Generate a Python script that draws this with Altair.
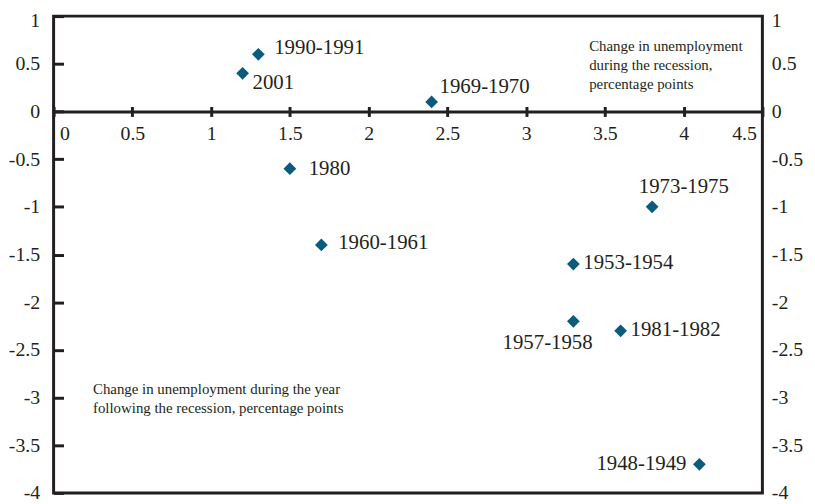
import altair as alt
import pandas as pd

# ---- data ----
recessions = ["1948-1949", "1953-1954", "1957-1958", "1960-1961", "1969-1970",
              "1973-1975", "1980", "1981-1982", "1990-1991", "2001"]
during = [4.1, 3.3, 3.3, 1.7, 2.4, 3.8, 1.5, 3.6, 1.3, 1.2]
after = [-3.7, -1.6, -2.2, -1.4, 0.1, -1.0, -0.6, -2.3, 0.6, 0.4]

x_ticks = [0, 0.5, 1, 1.5, 2, 2.5, 3, 3.5, 4, 4.5]
y_ticks = [-4, -3.5, -3, -2.5, -2, -1.5, -1, -0.5, 0, 0.5, 1]

note_during = ["Change in unemployment", "during the recession,", "percentage points"]
note_after = ["Change in unemployment during the year",
              "following the recession, percentage points"]

df = pd.DataFrame({"recession": recessions, "during": during, "after": after})
one = pd.DataFrame({"k": [0]})

# ---- styling ----
W, H = 715, 481
XD = [0, 4.5]
YD = [-4, 1]
zero_from_top = H * (YD[1] - 0) / (YD[1] - YD[0])
FONT = "Liberation Serif"
INK = "#231f20"
BLUE = "#0b5b7c"
FS = 21
AFS = 20

xs = alt.Scale(domain=XD, nice=False, zero=False)
ys = alt.Scale(domain=YD, nice=False, zero=False)

common = dict(grid=False, title=None, labelFont=FONT, labelFontSize=AFS,
              labelColor=INK, tickColor=INK, domainColor=INK,
              tickWidth=3, domainWidth=3, labelExpr="datum.value + ''")

# keep the topmost y label inside the page
top_label_offset = {"condition": {"test": f"datum.value == {YD[1]}", "value": 4}, "value": 0}

x_axis_bottom = alt.Axis(orient="bottom", offset=-(H - zero_from_top), values=x_ticks,
                         tickSize=5, labelPadding=7, domain=True, labelFlush=True,
                         labelFlushOffset=-6, **common)
x_axis_top = alt.Axis(orient="top", offset=-zero_from_top, values=x_ticks,
                      labels=False, tickSize=5, domain=False, **common)
y_axis_left = alt.Axis(orient="left", values=y_ticks, ticks=False, tickSize=0,
                       labelPadding=14, domain=False, labelOffset=top_label_offset,
                       **common)
y_axis_right = alt.Axis(orient="right", values=y_ticks, ticks=False, tickSize=0,
                        labelPadding=9, domain=False, labelOffset=top_label_offset,
                        **common)
y_axis_inner = alt.Axis(orient="right", offset=-W, values=y_ticks, labels=False,
                        tickSize=10, domain=False, **common)

base = alt.Chart(df)

points = base.mark_point(shape="diamond", filled=True, size=165, color=BLUE,
                         opacity=1).encode(
    x=alt.X("during:Q", scale=xs, axis=x_axis_bottom),
    y=alt.Y("after:Q", scale=ys, axis=y_axis_left),
)
axes_b = base.mark_point(opacity=0).encode(
    x=alt.X("during:Q", scale=xs, axis=x_axis_top),
    y=alt.Y("after:Q", scale=ys, axis=y_axis_right),
)
axes_c = base.mark_point(opacity=0).encode(
    x=alt.X("during:Q", scale=xs, axis=None),
    y=alt.Y("after:Q", scale=ys, axis=y_axis_inner),
)

# label placement (style): align, dx, dy
label_style = {
    "1990-1991": ("left", 16, -6),
    "2001": ("left", 10, 10),
    "1969-1970": ("left", 8, -15),
    "1980": ("left", 19, 0),
    "1960-1961": ("left", 17, -2),
    "1973-1975": ("center", 32, -20),
    "1953-1954": ("left", 10, -1),
    "1957-1958": ("center", -26, 22),
    "1981-1982": ("left", 10, -1),
    "1948-1949": ("right", -13, 0),
}

labels = []
for name, (al, dx, dy) in label_style.items():
    labels.append(
        base.transform_filter(alt.datum.recession == name)
        .mark_text(align=al, baseline="middle", dx=dx, dy=dy, font=FONT,
                   fontSize=FS, color=INK)
        .encode(x=alt.X("during:Q", scale=xs, axis=None),
                y=alt.Y("after:Q", scale=ys, axis=None),
                text="recession:N")
    )

note1 = alt.Chart(one).mark_text(text=note_during, align="left", baseline="top",
                                 lineHeight=19, font=FONT, fontSize=15, color=INK).encode(
    x=alt.XDatum(3.40, scale=xs, axis=None),
    y=alt.YDatum(0.76, scale=ys, axis=None),
)
note2 = alt.Chart(one).mark_text(text=note_after, align="left", baseline="top",
                                 lineHeight=19, font=FONT, fontSize=15, color=INK).encode(
    x=alt.XDatum(0.25, scale=xs, axis=None),
    y=alt.YDatum(-2.84, scale=ys, axis=None),
)

chart = alt.layer(points, axes_b, axes_c, *labels, note1, note2).resolve_axis(
    x="independent", y="independent"
).resolve_scale(x="shared", y="shared").properties(
    width=W, height=H,
    background="white",
    autosize=alt.AutoSizeParams(type="none"),
    padding={"left": 46, "top": 6, "right": 45, "bottom": 12},
).configure_view(stroke=INK, strokeWidth=3)

chart.save("out.html", embed_options={"renderer": "svg", "actions": False})
